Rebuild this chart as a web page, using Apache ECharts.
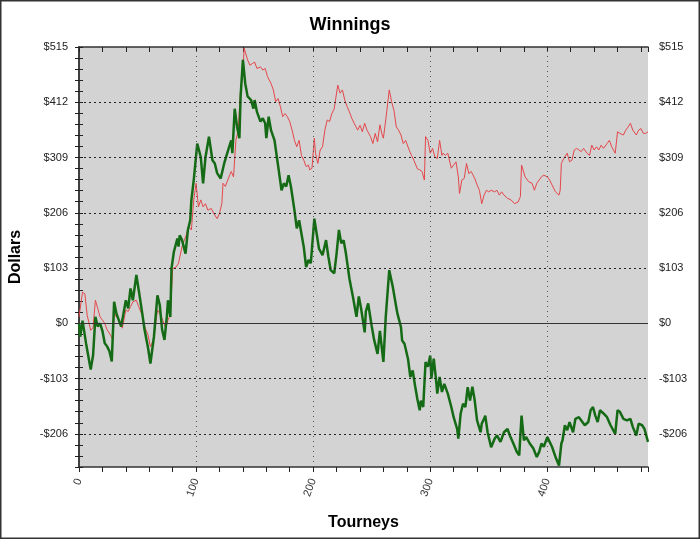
<!DOCTYPE html>
<html>
<head>
<meta charset="utf-8">
<script src="https://cdn.jsdelivr.net/npm/echarts@6/dist/echarts.min.js"></script>
<style>
html, body { margin: 0; padding: 0; background: #fff; }
#chart { width: 700px; height: 539px; }
</style>
</head>
<body>
<div id="chart"></div>
<script>
// tourney number / running dollars
const redTourneys = [0,3,5,7,10,12,14,16,18,20,22,24,27,29,30,33,35,37,40,42,44,46,49,51,54,56,59,61,64,67,69,71,74,76,78,80,83,85,88,91,94,96,98,100,102,104,106,108,110,113,115,118,120,122,123,125,127,130,132,134,136,138,140,141,142,144,146,148,150,152,155,157,159,161,164,166,168,170,172,174,176,178,180,182,184,186,188,190,192,194,196,197,199,201,202,204,206,208,210,212,214,216,218,221,223,225,227,229,231,233,235,238,240,242,244,246,249,251,253,255,257,259,260,262,265,267,269,271,273,275,277,279,282,284,286,289,291,293,295,296,298,300,302,304,306,308,310,311,313,315,318,320,322,324,325,327,329,331,333,335,338,340,342,344,346,348,350,352,355,357,359,361,363,366,369,372,375,377,378,381,384,387,389,391,393,395,397,400,402,404,407,410,411,412,414,417,419,421,423,425,427,429,431,434,436,438,440,442,444,446,448,451,453,455,458,460,462,465,467,469,471,473,476,478,480,482,484,486];
const redDollars = [12,58,55,15,-13,-8,43,28,12,6,0,-12,-22,-31,18,9,3,-9,25,22,31,40,43,31,15,-6,-22,-44,-28,25,18,9,-9,6,15,102,105,112,143,161,180,174,230,261,217,230,217,223,211,214,205,195,205,223,261,255,267,283,273,341,360,435,466,513,515,491,481,484,487,475,478,472,475,460,447,435,413,419,404,385,391,385,376,360,341,329,341,313,304,292,295,286,289,345,317,298,323,329,360,379,376,391,400,444,429,435,416,404,394,382,373,360,369,357,373,360,348,335,354,338,370,351,345,379,435,413,397,366,360,351,335,341,323,313,304,288,286,283,267,348,341,317,326,310,307,341,313,317,313,317,289,295,301,273,242,267,270,298,279,283,270,258,248,223,239,248,245,248,245,248,239,245,239,233,230,223,226,236,295,273,264,261,248,261,267,273,276,273,267,258,245,239,248,298,307,317,301,304,323,326,323,320,326,317,313,332,323,329,323,332,326,335,341,329,317,357,354,351,360,366,373,360,351,360,363,354,354,357];

const greenTourneys = [0,1,3,6,10,12,14,16,18,20,22,24,26,28,30,32,34,36,37,40,42,44,46,49,51,54,56,59,61,64,67,69,71,73,75,76,78,79,81,84,85,86,88,91,93,95,96,98,101,104,106,108,111,114,116,118,121,124,127,130,131,133,135,137,138,140,142,144,147,149,150,152,155,157,159,160,162,164,167,169,171,173,175,177,179,181,184,186,188,190,192,194,196,198,201,203,205,208,211,213,215,218,220,222,224,226,228,231,234,237,239,241,244,245,247,250,252,255,257,260,262,265,268,271,272,275,276,278,281,283,285,287,289,291,292,294,296,298,300,301,303,305,306,308,310,312,315,318,320,323,324,326,328,330,332,334,336,338,340,343,344,346,347,349,352,355,357,360,363,366,368,371,374,376,378,380,382,385,388,391,393,395,397,400,402,404,407,410,412,413,415,417,419,422,424,427,429,432,435,437,439,441,443,445,448,451,454,458,460,462,465,468,471,473,476,478,481,483,486];
const greenDollars = [0,-25,5,-37,-86,-60,12,-6,0,-14,-37,-43,-52,-71,40,18,6,-6,6,43,28,65,43,90,62,19,-12,-46,-75,-25,52,34,-12,-31,12,43,12,102,133,158,143,164,155,130,174,192,230,267,335,310,261,309,348,304,298,280,270,298,320,341,317,400,366,345,422,491,447,423,416,400,416,394,376,382,373,345,385,360,341,310,279,248,261,255,276,255,211,177,192,167,142,105,118,112,195,167,139,127,155,124,99,93,130,174,149,155,130,83,49,12,50,27,-17,22,37,-5,-30,-57,-14,-72,12,99,68,30,18,-7,-32,-38,-66,-100,-88,-116,-141,-162,-144,-156,-72,-81,-60,-103,-66,-106,-131,-100,-128,-113,-131,-156,-175,-197,-215,-168,-150,-156,-119,-144,-118,-144,-181,-203,-187,-178,-172,-203,-231,-215,-209,-221,-203,-197,-209,-224,-240,-246,-172,-218,-212,-224,-233,-249,-240,-224,-230,-212,-221,-230,-249,-265,-224,-218,-190,-199,-184,-203,-178,-175,-181,-190,-184,-162,-156,-172,-184,-162,-168,-175,-190,-206,-162,-165,-178,-181,-178,-193,-209,-187,-190,-197,-221];

const dollarTicks = [-206, -103, 103, 206, 309, 412];
const tourneyTicks = [100, 200, 300, 400];

const yMin = -267.8, yMax = 515, yStep = 20.6;
const xMax = 486;

function zip(xs, ys) {
    return xs.map((x, i) => [x, ys[i]]);
}

function money(v) {
    if (Math.abs(v / 103 - Math.round(v / 103)) > 1e-3) return '';
    let n = Math.round(v);
    return n < 0 ? '-$' + (-n) : '$' + n;
}

const font = 'Arial, "Liberation Sans", sans-serif';

let yAxisBase = (pos) => ({
    type: 'value',
    position: pos,
    min: yMin,
    max: yMax,
    interval: yStep,
    axisLine: { show: true, lineStyle: { color: '#333', width: 1.5 } },
    axisTick: { show: true, inside: true, length: 4, lineStyle: { color: '#222' } },
    axisLabel: {
        formatter: money, color: '#222', fontSize: 11, fontFamily: font,
        margin: 11
    },
    splitLine: { show: false }
});

let xAxisBase = (pos) => ({
    type: 'value',
    position: pos,
    min: 0,
    max: xMax,
    interval: 20,
    axisLine: { show: true, onZero: false, lineStyle: { color: '#333', width: 1.5 } },
    axisTick: { show: true, inside: pos === 'top', length: 5, lineStyle: { color: '#222' } },
    splitLine: { show: false }
});

const chart = echarts.init(document.getElementById('chart'), null, { renderer: 'canvas' });

let xBottom = xAxisBase('bottom');
xBottom.axisLabel = {
    formatter: v => (v % 100 === 0 ? String(v) : ''),
    rotate: 70, color: '#333', fontSize: 11, fontFamily: font, margin: 12
};
xBottom.name = 'Tourneys';
xBottom.nameLocation = 'middle';
xBottom.nameGap = 48;
xBottom.nameTextStyle = { fontSize: 16, fontWeight: 'bold', color: '#000', fontFamily: font };

let xTop = xAxisBase('top');
xTop.axisLabel = { show: false };

let yLeft = yAxisBase('left');
yLeft.name = 'Dollars';
yLeft.nameLocation = 'middle';
yLeft.nameRotate = 90;
yLeft.nameGap = 55;
yLeft.nameTextStyle = { fontSize: 16, fontWeight: 'bold', color: '#000', fontFamily: font };

let yRight = yAxisBase('right');

chart.setOption({
    animation: false,
    backgroundColor: '#fff',
    title: {
        text: 'Winnings',
        left: 'center',
        top: 11,
        textStyle: { fontSize: 18, fontWeight: 'bold', color: '#000', fontFamily: font }
    },
    graphic: [{
        type: 'rect',
        shape: { x: 0.75, y: 0.75, width: 698.5, height: 537.5 },
        style: { fill: 'none', stroke: '#333', lineWidth: 1.5 },
        silent: true
    }],
    grid: {
        left: 78, right: 52, top: 47, bottom: 72,
        show: true, backgroundColor: '#d3d3d3', borderWidth: 0
    },
    xAxis: [xBottom, xTop],
    yAxis: [yLeft, yRight],
    series: [
        {
            // grid lines only
            type: 'line',
            data: [],
            z: 1,
            markLine: {
                silent: true,
                symbol: 'none',
                label: { show: false },
                animation: false,
                data: [
                    ...dollarTicks.map(v => ({ yAxis: v, lineStyle: { color: '#222', type: [2, 3], width: 1 } })),
                    { yAxis: 0, lineStyle: { color: '#333', type: 'solid', width: 1.2 } },
                    ...tourneyTicks.map(v => ({ xAxis: v, lineStyle: { color: '#555', type: [1, 4], width: 1 } }))
                ]
            }
        },
        {
            name: 'red',
            type: 'line',
            data: zip(redTourneys, redDollars),
            showSymbol: false,
            z: 2,
            lineStyle: { color: '#e4474b', width: 1 }
        },
        {
            name: 'green',
            type: 'line',
            data: zip(greenTourneys, greenDollars),
            showSymbol: false,
            z: 3,
            lineStyle: { color: '#156b15', width: 2.5 }
        }
    ]
});
</script>
</body>
</html>
